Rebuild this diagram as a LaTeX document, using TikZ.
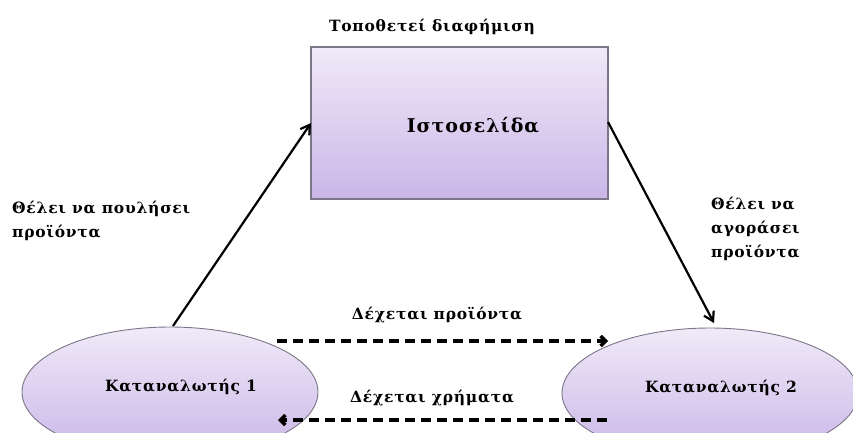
\documentclass[tikz,border=0pt]{standalone}
\usepackage{fontspec}
\setmainfont{DejaVu Serif}[LetterSpace=5]
\usetikzlibrary{shapes.geometric,arrows.meta}
\definecolor{ltop}{HTML}{F0EAF8}
\definecolor{lbot}{HTML}{C9B6E8}
\definecolor{lborder}{HTML}{7C7688}
\tikzset{
  box/.style={draw=lborder, line width=1.2pt, top color=ltop, bottom color=lbot, minimum width=297pt, minimum height=152pt, inner sep=0pt},
  ell/.style={ellipse, draw=lborder, line width=0.9pt, top color=ltop, bottom color=lbot, minimum width=296pt, minimum height=130pt, inner sep=0pt},
  lbl/.style={font=\bfseries\fontsize{15.5}{24}\selectfont, align=left, inner sep=0pt},
  conn/.style={line width=2.2pt, -{Straight Barb[length=9pt,width=11pt]}},
  dconn/.style={line width=3.4pt, dash pattern=on 10pt off 6pt, -{Straight Barb[length=5pt,width=10pt]}}
}
\begin{document}
\begin{tikzpicture}[x=1pt,y=-1pt]
\useasboundingbox (0,0) rectangle (853,432);
\fill[white] (0,0) rectangle (853,432);
\node[box] (web) at (459.5,123) {};
\node[font=\bfseries\fontsize{19}{20}\selectfont] (webt) at (473,125) {Ιστοσελίδα};
\node[lbl] (top) at (432,27) {Τοποθετεί διαφήμιση};
\node[ell] (c1) at (170,392) {};
\node[font=\bfseries\fontsize{15.5}{16}\selectfont] (c1t) at (181,387) {Καταναλωτής 1};
\node[ell] (c2) at (710,393) {};
\node[font=\bfseries\fontsize{15.5}{16}\selectfont] (c2t) at (721,388) {Καταναλωτής 2};
\node[lbl, anchor=west] (l1) at (12,221) {Θέλει να πουλήσει\\προϊόντα};
\node[lbl, anchor=west] (l2) at (711,229) {Θέλει να\\αγοράσει\\προϊόντα};
\node[lbl] (l3) at (437,315) {Δέχεται προϊόντα};
\node[lbl] (l4) at (432,398) {Δέχεται χρήματα};
\coordinate (a1s) at (173,326);
\coordinate (a1e) at (311,123);
\coordinate (a2s) at (608,122);
\coordinate (a2e) at (714,323);
\draw[conn] (a1s) -- (a1e);
\draw[conn] (a2s) -- (a2e);
\coordinate (d1s) at (277,341);
\coordinate (d1e) at (608,341);
\coordinate (d2s) at (607,420);
\coordinate (d2e) at (278,420);
\draw[dconn] (d1s) -- (d1e);
\draw[dconn] (d2s) -- (d2e);
\end{tikzpicture}
\end{document}
